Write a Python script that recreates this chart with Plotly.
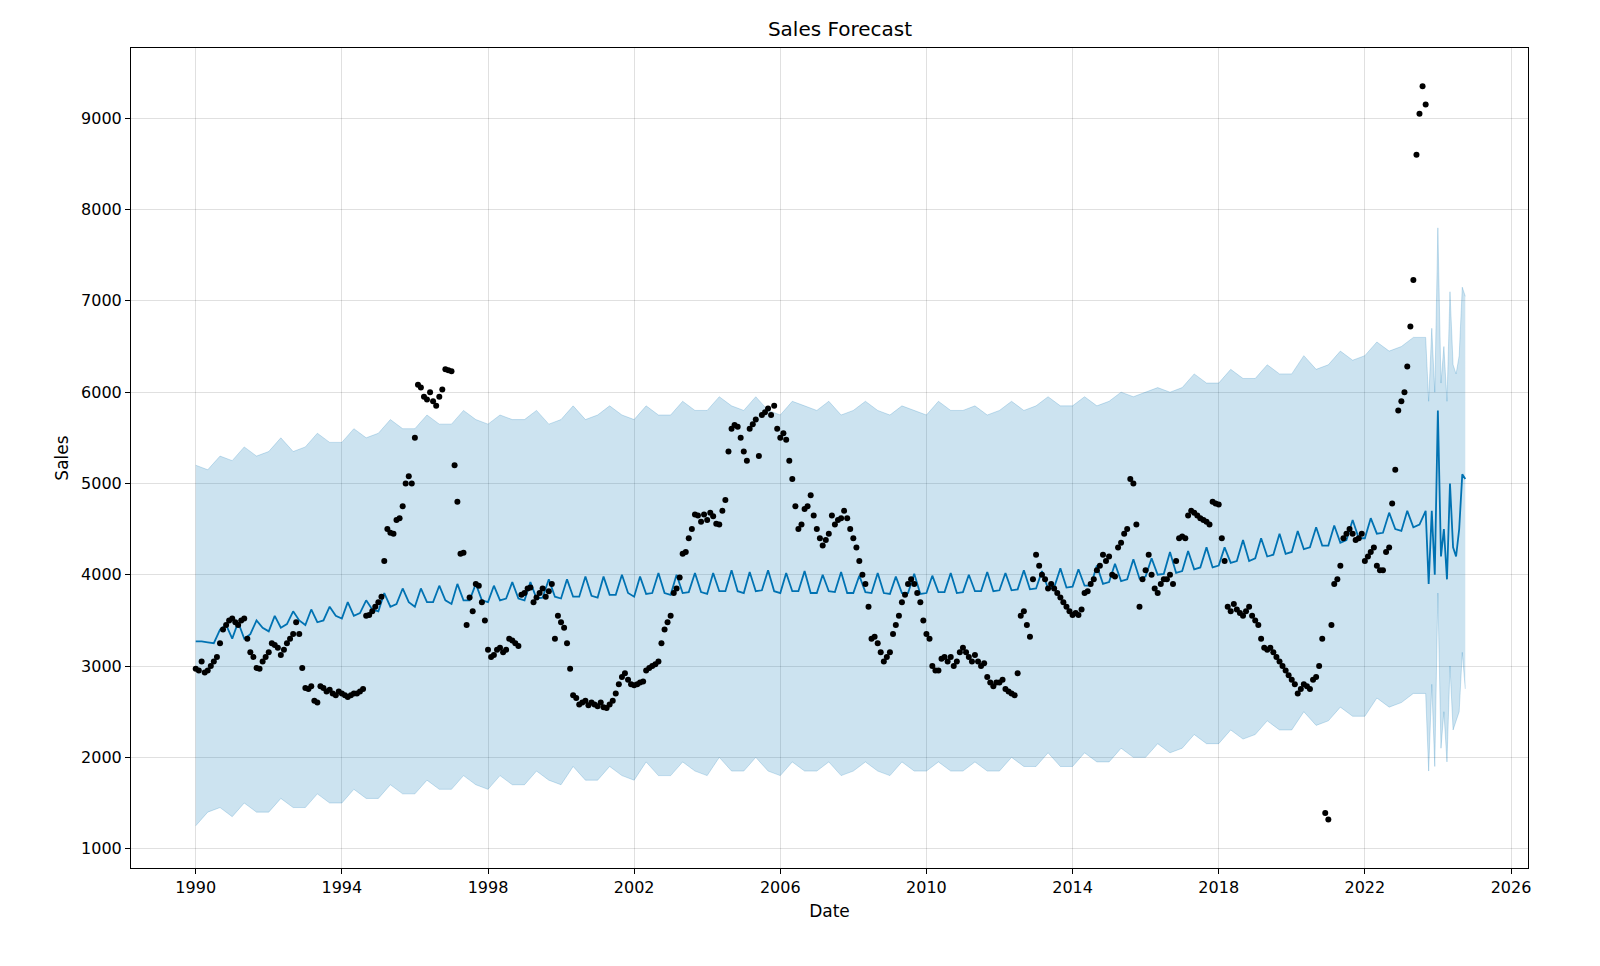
import pandas as pd
import plotly.graph_objects as go

# observed monthly sales, one row per year starting 1990
sales_by_year = [
    [2970, 2950, 3050, 2930, 2950, 3000, 3050, 3100, 3250, 3400, 3450, 3500],
    [3520, 3480, 3450, 3500, 3520, 3300, 3150, 3100, 2980, 2970, 3050, 3100],
    [3150, 3250, 3230, 3200, 3120, 3180, 3250, 3300, 3350, 3480, 3350, 2980],
    [2760, 2750, 2780, 2620, 2600, 2780, 2760, 2720, 2740, 2700, 2680, 2720],
    [2700, 2680, 2660, 2680, 2700, 2700, 2720, 2750, 3550, 3560, 3600, 3650],
    [3700, 3760, 4150, 4500, 4460, 4450, 4600, 4620, 4750, 5000, 5080, 5000],
    [5500, 6080, 6050, 5950, 5920, 6000, 5900, 5850, 5950, 6030, 6250, 6240],
    [6230, 5200, 4800, 4230, 4240, 3450, 3750, 3600, 3900, 3880, 3700, 3500],
    [3180, 3100, 3120, 3180, 3200, 3150, 3180, 3300, 3280, 3250, 3220, 3780],
    [3800, 3850, 3860, 3700, 3750, 3800, 3850, 3760, 3820, 3900, 3300, 3550],
    [3480, 3420, 3250, 2970, 2680, 2650, 2580, 2600, 2620, 2570, 2600, 2580],
    [2560, 2600, 2550, 2540, 2580, 2620, 2700, 2800, 2880, 2920, 2850, 2800],
    [2790, 2800, 2820, 2830, 2950, 2980, 3000, 3020, 3050, 3250, 3400, 3480],
    [3550, 3800, 3850, 3970, 4230, 4250, 4400, 4500, 4660, 4650, 4580, 4660],
    [4600, 4680, 4640, 4560, 4550, 4700, 4820, 5350, 5600, 5640, 5620, 5500],
    [5350, 5250, 5600, 5650, 5700, 5300, 5750, 5780, 5820, 5750, 5850, 5600],
    [5500, 5550, 5480, 5250, 5050, 4750, 4500, 4550, 4720, 4750, 4870, 4650],
    [4500, 4400, 4320, 4380, 4450, 4650, 4550, 4600, 4620, 4700, 4620, 4500],
    [4400, 4300, 4150, 4000, 3900, 3650, 3300, 3320, 3250, 3150, 3050, 3100],
    [3150, 3350, 3450, 3550, 3700, 3780, 3900, 3950, 3900, 3800, 3700, 3500],
    [3350, 3300, 3000, 2950, 2950, 3080, 3100, 3050, 3100, 3000, 3050, 3150],
    [3200, 3150, 3100, 3050, 3120, 3050, 3000, 3030, 2880, 2820, 2780, 2820],
    [2820, 2850, 2750, 2720, 2700, 2680, 2920, 3550, 3600, 3450, 3320, 3950],
    [4220, 4100, 4000, 3950, 3850, 3900, 3850, 3800, 3750, 3700, 3650, 3600],
    [3560, 3580, 3560, 3620, 3800, 3820, 3900, 3950, 4050, 4100, 4220, 4150],
    [4200, 4000, 3980, 4300, 4350, 4450, 4500, 5050, 5000, 4550, 3650, 3950],
    [4050, 4220, 4000, 3850, 3800, 3900, 3950, 3950, 4000, 3900, 4150, 4400],
    [4420, 4400, 4650, 4700, 4680, 4650, 4620, 4600, 4580, 4550, 4800, 4780],
    [4770, 4400, 4150, 3650, 3600, 3680, 3620, 3580, 3550, 3600, 3650, 3550],
    [3500, 3450, 3300, 3200, 3180, 3200, 3150, 3100, 3050, 3000, 2950, 2900],
    [2850, 2800, 2700, 2750, 2800, 2780, 2750, 2850, 2880, 3000, 3300, 1390],
    [1320, 3450, 3900, 3950, 4100, 4400, 4450, 4500, 4450, 4380, 4400, 4450],
    [4150, 4200, 4250, 4300, 4100, 4050, 4050, 4250, 4300, 4780, 5150, 5800],
    [5900, 6000, 6280, 6720, 7230, 8600, 9050, 9350, 9150],
]

# fitted line, every two months (Jan, Mar, May, Jul, Sep, Nov)
fit_by_year = [
    [3270, 3270, 3260, 3250, 3400, 3450], [3300, 3480, 3300, 3350, 3500, 3420],
    [3380, 3550, 3420, 3460, 3600, 3500], [3450, 3620, 3480, 3500, 3650, 3550],
    [3520, 3700, 3550, 3580, 3720, 3620], [3600, 3800, 3650, 3680, 3850, 3700],
    [3650, 3850, 3700, 3700, 3880, 3720], [3680, 3900, 3720, 3720, 3900, 3720],
    [3700, 3880, 3720, 3740, 3920, 3740], [3720, 3920, 3740, 3750, 3950, 3760],
    [3740, 3950, 3760, 3760, 3980, 3770], [3750, 3980, 3780, 3780, 4000, 3800],
    [3760, 3980, 3790, 3800, 4020, 3800], [3780, 4000, 3800, 3810, 4020, 3810],
    [3790, 4020, 3820, 3820, 4050, 3820], [3800, 4030, 3820, 3830, 4050, 3820],
    [3800, 4020, 3820, 3820, 4040, 3800], [3800, 4000, 3820, 3810, 4030, 3800],
    [3800, 3990, 3810, 3800, 4020, 3800], [3790, 3980, 3800, 3800, 4010, 3790],
    [3800, 3990, 3810, 3810, 4020, 3800], [3810, 4000, 3820, 3820, 4030, 3820],
    [3830, 4020, 3830, 3840, 4050, 3840], [3850, 4040, 3850, 3860, 4070, 3860],
    [3870, 4060, 3880, 3880, 4100, 3900], [3920, 4120, 3930, 3950, 4170, 3960],
    [3980, 4180, 4000, 4010, 4250, 4020], [4040, 4260, 4060, 4080, 4300, 4080],
    [4100, 4300, 4130, 4150, 4380, 4150], [4180, 4400, 4200, 4220, 4450, 4230],
    [4250, 4480, 4280, 4300, 4520, 4320], [4320, 4540, 4350, 4380, 4600, 4400],
    [4400, 4620, 4450, 4460, 4680, 4500], [4480, 4700, 4520, 4550],
]

# uncertainty band, every four months (Jan, May, Sep)
upper_by_year = [
    [5200, 5150, 5300], [5250, 5400, 5300], [5350, 5500, 5350], [5400, 5550, 5450],
    [5450, 5600, 5500], [5550, 5700, 5600], [5600, 5750, 5650], [5650, 5800, 5700],
    [5650, 5750, 5700], [5700, 5800, 5650], [5700, 5850, 5700], [5750, 5850, 5750],
    [5700, 5850, 5750], [5750, 5900, 5800], [5800, 5950, 5850], [5800, 5950, 5800],
    [5750, 5900, 5850], [5800, 5900, 5750], [5800, 5900, 5800], [5750, 5850, 5800],
    [5750, 5900, 5800], [5800, 5850, 5750], [5800, 5900, 5800], [5850, 5950, 5850],
    [5850, 5950, 5850], [5900, 6000, 5950], [6000, 6050, 6000], [6050, 6200, 6100],
    [6100, 6250, 6150], [6150, 6300, 6200], [6200, 6400, 6250], [6300, 6450, 6350],
    [6400, 6550, 6450], [6500, 6600],
]
lower_by_year = [
    [1250, 1400, 1450], [1350, 1500, 1400], [1400, 1550, 1450], [1450, 1600, 1500],
    [1500, 1650, 1550], [1550, 1700, 1600], [1600, 1750, 1650], [1650, 1800, 1700],
    [1650, 1800, 1700], [1700, 1850, 1750], [1700, 1900, 1750], [1750, 1900, 1800],
    [1750, 1950, 1800], [1800, 1950, 1850], [1800, 2000, 1850], [1850, 2000, 1850],
    [1800, 1950, 1850], [1850, 1950, 1800], [1850, 1950, 1850], [1800, 1950, 1850],
    [1850, 1950, 1850], [1850, 1950, 1850], [1850, 2000, 1900], [1900, 2050, 1900],
    [1900, 2050, 1950], [1950, 2100, 2000], [2000, 2150, 2050], [2100, 2250, 2150],
    [2150, 2300, 2200], [2250, 2400, 2300], [2300, 2500, 2350], [2400, 2550, 2450],
    [2450, 2650, 2550], [2600, 2700],
]

# forecast period, monthly from Sep 2023
fc_dates = pd.date_range("2023-09-01", "2024-10-01", freq="MS")
fc_line = [4700, 3900, 4700, 4000, 5800, 4200, 4500, 3950, 5000, 4300, 4200, 4500, 5100, 5050]
fc_upper = [6600, 5900, 6700, 6000, 7800, 6100, 6500, 5900, 7100, 6300, 6200, 6400, 7150, 7050]
fc_lower = [2700, 1850, 2800, 1900, 3800, 2100, 2500, 1950, 3000, 2300, 2400, 2500, 3150, 2750]

sales = [v for row in sales_by_year for v in row]
sales_dates = pd.date_range("1990-01-01", periods=len(sales), freq="MS")

fit = [v for row in fit_by_year for v in row]
fit_dates = pd.date_range("1990-01-01", periods=len(fit), freq="2MS")
upper = [v for row in upper_by_year for v in row]
lower = [v for row in lower_by_year for v in row]
band_dates = pd.date_range("1990-01-01", periods=len(upper), freq="4MS")

band_x = list(band_dates) + list(fc_dates)
up_y = upper + fc_upper
lo_y = lower + fc_lower
line_x = list(fit_dates) + list(fc_dates)
line_y = fit + fc_line

fig = go.Figure()
fig.add_trace(go.Scatter(x=band_x, y=lo_y, mode="lines",
                         line=dict(color="rgba(0,114,178,0.2)", width=1), showlegend=False))
fig.add_trace(go.Scatter(x=band_x, y=up_y, mode="lines", fill="tonexty",
                         fillcolor="rgba(0,114,178,0.2)",
                         line=dict(color="rgba(0,114,178,0.2)", width=1), showlegend=False))
fig.add_trace(go.Scatter(x=line_x, y=line_y, mode="lines",
                         line=dict(color="#0072B2", width=1.8), showlegend=False))
fig.add_trace(go.Scatter(x=sales_dates, y=sales, mode="markers",
                         marker=dict(color="black", size=6), showlegend=False))

axis_style = dict(showgrid=True, gridcolor="rgba(0,0,0,0.12)", showline=True, linecolor="black",
                  mirror=True, ticks="outside", ticklen=5, tickcolor="black", zeroline=False,
                  tickfont=dict(size=16, color="black"))
fig.update_xaxes(title=dict(text="Date", font=dict(size=17, color="black"), standoff=8),
                 range=["1988-03-25", "2026-06-20"],
                 tickvals=[f"{y}-01-01" for y in range(1990, 2027, 4)],
                 ticktext=[str(y) for y in range(1990, 2027, 4)], **axis_style)
fig.update_yaxes(title=dict(text="Sales", font=dict(size=17, color="black"), standoff=8),
                 range=[788, 9770], tickvals=list(range(1000, 9001, 1000)), **axis_style)
fig.update_layout(
    title=dict(text="Sales Forecast", x=0.52, y=0.985, font=dict(size=20, color="black")),
    width=1600, height=966, plot_bgcolor="white", paper_bgcolor="white",
    font=dict(family="DejaVu Sans"),
    margin=dict(l=123, r=80, t=40, b=106),
)
fig.write_html("out.html")
